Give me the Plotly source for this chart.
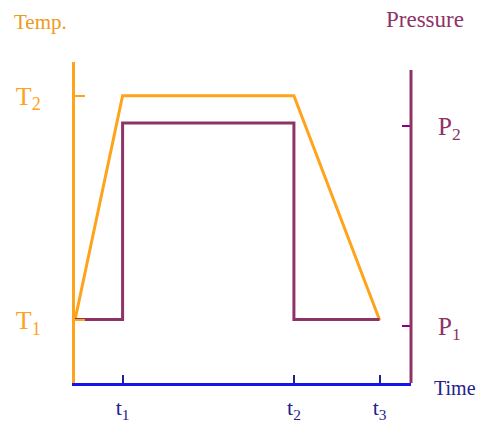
import plotly.graph_objects as go

# time points (arbitrary units)
time_ticks = [5, 23, 32]
time_labels = ["t<sub>1</sub>", "t<sub>2</sub>", "t<sub>3</sub>"]
time_max = 35.3

# temperature profile
temp_time = [0, 5, 23, 32]
temp_vals = [25, 114, 114, 25]
temp_ticks = [25, 114]
temp_labels = ["T<sub>1</sub>", "T<sub>2</sub>"]
temp_max = 127.4

# pressure profile (step)
pres_time = [0, 5, 5, 23, 23, 32]
pres_vals = [1.0, 1.0, 4.09, 4.09, 1.0, 1.0]
pres_ticks = [0.9, 4.04]
pres_labels = ["P<sub>1</sub>", "P<sub>2</sub>"]
pres_max = 5.05

ORANGE = "#FFA31A"
PURPLE = "#8E3366"
BLUE = "#1414F0"
DARKBLUE = "#22228C"
SERIF = "Liberation Serif, Times New Roman, serif"

# page body has an 8px margin; figure sized so the page fits the window exactly
W, H = 469, 416
L, R, T, B = 67, 66, 54, 41


def px_x(x):
    return (x - 75) / 336


def px_y(y):
    return (383 - y) / 321


fig = go.Figure()
fig.add_trace(go.Scatter(x=pres_time, y=pres_vals, yaxis="y2", mode="lines",
                         line=dict(color=PURPLE, width=3), hoverinfo="skip"))
fig.add_trace(go.Scatter(x=temp_time, y=temp_vals, mode="lines",
                         line=dict(color=ORANGE, width=3), hoverinfo="skip"))

fig.update_layout(
    width=W, height=H, showlegend=False,
    plot_bgcolor="white", paper_bgcolor="white",
    margin=dict(l=L, r=R, t=T, b=B, autoexpand=False),
    xaxis=dict(range=[0, time_max], showgrid=False, zeroline=False, automargin=False,
               showline=True, linecolor=BLUE, linewidth=3,
               tickvals=time_ticks, ticktext=time_labels, ticks="inside",
               ticklen=8, tickwidth=2, tickcolor=DARKBLUE, ticklabelstandoff=3,
               tickfont=dict(family=SERIF, size=22, color=DARKBLUE)),
    yaxis=dict(range=[0, temp_max], showgrid=False, zeroline=False, automargin=False,
               showline=True, linecolor=ORANGE, linewidth=3,
               tickvals=temp_ticks, ticktext=temp_labels, ticks="inside",
               ticklen=10, tickwidth=2, tickcolor=ORANGE, ticklabelstandoff=26,
               tickfont=dict(family=SERIF, size=26, color=ORANGE)),
    yaxis2=dict(range=[0, pres_max], overlaying="y", side="right", automargin=False,
                showgrid=False, zeroline=False, showline=False,
                tickvals=pres_ticks, ticktext=pres_labels, ticks="inside",
                ticklen=9, tickwidth=2, tickcolor="#880088", ticklabelstandoff=26,
                tickfont=dict(family=SERIF, size=25, color=PURPLE)),
)

# right axis line stops a little below the top of the left one
fig.add_shape(type="line", xref="paper", yref="y2 domain", x0=1, x1=1, y0=0, y1=0.975,
              line=dict(color=PURPLE, width=3))

fig.add_annotation(text="Temp.", xref="paper", yref="paper", x=px_x(40), y=px_y(22),
                   xanchor="center", yanchor="middle", showarrow=False,
                   font=dict(family=SERIF, size=21, color="#EE9A22"))
fig.add_annotation(text="Pressure", xref="paper", yref="paper", x=px_x(425), y=px_y(20),
                   xanchor="center", yanchor="middle", showarrow=False,
                   font=dict(family=SERIF, size=23, color=PURPLE))
fig.add_annotation(text="Time", xref="paper", yref="paper", x=px_x(432), y=px_y(388),
                   xanchor="left", yanchor="middle", showarrow=False,
                   font=dict(family=SERIF, size=20, color=DARKBLUE))

fig.write_html("out.html")
